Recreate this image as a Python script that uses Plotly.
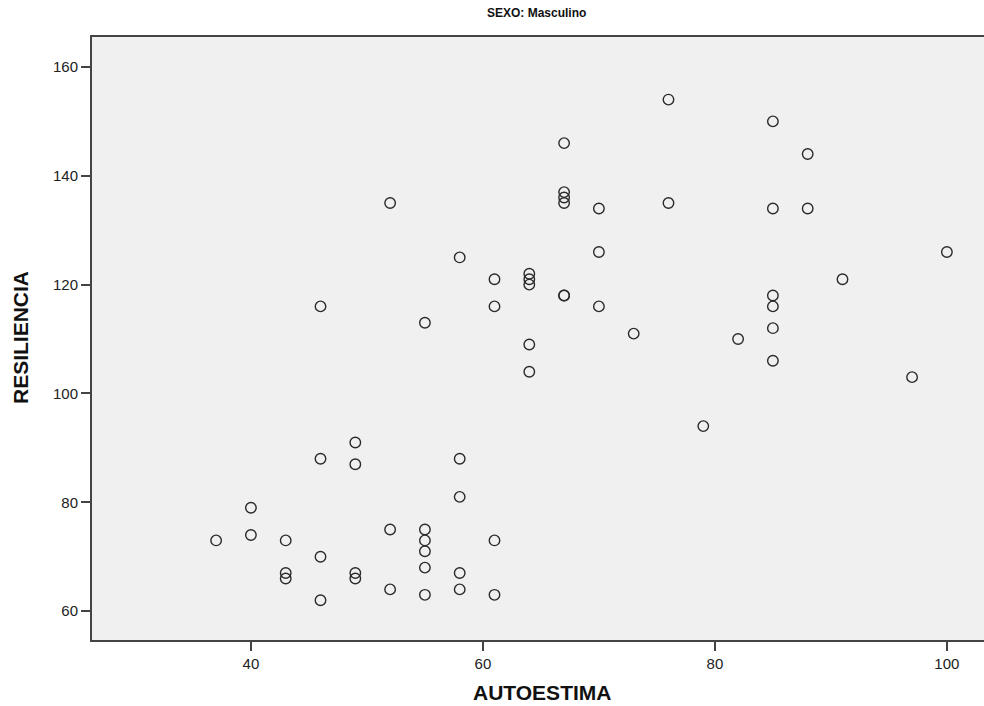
import plotly.graph_objects as go

autoestima = [37,
              40, 40,
              43, 43, 43,
              46, 46, 46, 46,
              49, 49, 49, 49,
              52, 52, 52,
              55, 55, 55, 55, 55, 55,
              58, 58, 58, 58, 58,
              61, 61, 61, 61,
              64, 64, 64, 64, 64,
              67, 67, 67, 67, 67, 67,
              70, 70, 70,
              73,
              76, 76,
              79,
              82,
              85, 85, 85, 85, 85, 85,
              88, 88,
              91,
              97,
              100]
resiliencia = [73,
               79, 74,
               73, 67, 66,
               116, 88, 70, 62,
               91, 87, 67, 66,
               135, 75, 64,
               113, 75, 73, 71, 68, 63,
               125, 88, 81, 67, 64,
               121, 116, 73, 63,
               122, 121, 120, 109, 104,
               146, 137, 136, 135, 118, 118,
               134, 126, 116,
               111,
               154, 135,
               94,
               110,
               150, 134, 118, 116, 112, 106,
               144, 134,
               121,
               103,
               126]

x_ticks = [40, 60, 80, 100]
y_ticks = [60, 80, 100, 120, 140, 160]

FONT = "Liberation Sans, Arial, sans-serif"

fig = go.Figure()
fig.add_trace(go.Scatter(
    x=autoestima, y=resiliencia, mode="markers",
    marker=dict(symbol="circle-open", size=10.5, color="#2a2a2a",
                line=dict(width=1.4, color="#2a2a2a")),
    showlegend=False, hoverinfo="skip",
))

axis_common = dict(
    showgrid=False, zeroline=False, showline=True, linecolor="#444444",
    linewidth=2, ticks="outside", ticklen=9, tickwidth=2, tickcolor="#444444",
    tickfont=dict(family=FONT, size=15, color="#222222"),
)

W, H = 984, 706
L, R, T, B = 92, 0, 37, 66
plot_h = H - T - B
plot_w = W - L - R

fig.update_layout(
    width=W, height=H,
    margin=dict(l=L, r=R, t=T, b=B),
    paper_bgcolor="white", plot_bgcolor="#F0F0F0",
    xaxis=dict(range=[26.3, 103.2], tickvals=x_ticks, mirror=True, **axis_common),
    yaxis=dict(range=[54.7, 165.5], tickvals=y_ticks, **axis_common),
    annotations=[
        dict(text="<b>SEXO: Masculino</b>", x=(536.5 - L) / plot_w, y=1 + (T - 13) / plot_h,
             xref="paper", yref="paper", xanchor="center", yanchor="middle",
             showarrow=False, font=dict(family=FONT, size=12, color="#111111")),
        dict(text="<b>AUTOESTIMA</b>", x=(542 - L) / plot_w, y=-(692 - (H - B)) / plot_h,
             xref="paper", yref="paper", xanchor="center", yanchor="middle",
             showarrow=False, font=dict(family=FONT, size=21, color="#111111")),
        dict(text="<b>RESILIENCIA</b>", x=-(L - 21) / plot_w, y=(H - B - 338) / plot_h,
             xref="paper", yref="paper", xanchor="center", yanchor="middle",
             showarrow=False, textangle=-90,
             font=dict(family=FONT, size=21, color="#111111")),
    ],
)

fig.write_html("out.html", config={"displayModeBar": False},
               post_script="document.body.style.margin='0';document.body.style.overflow='hidden';")
